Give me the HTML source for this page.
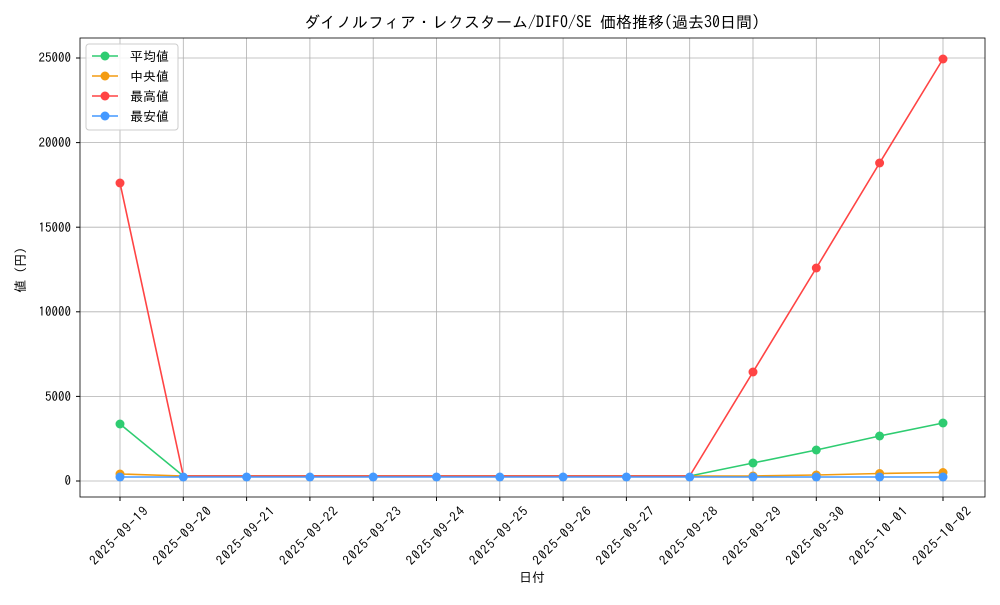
<!DOCTYPE html>
<html><head><meta charset="utf-8"><style>
body{margin:0;background:#fff;}
svg text{font-family:"IPAGothic","Noto Sans CJK JP",monospace;fill:#000;}
</style></head><body>
<svg width="1000" height="600" viewBox="0 0 1000 600" xmlns="http://www.w3.org/2000/svg">
<rect width="1000" height="600" fill="#fff"/>
<text x="532" y="28" font-size="16" text-anchor="middle">ダイノルフィア・レクスターム/DIFO/SE 価格推移(過去30日間)</text>
<g stroke="#b0b0b0" stroke-width="0.8">
<line x1="120" y1="38" x2="120" y2="497"/><line x1="183.3" y1="38" x2="183.3" y2="497"/><line x1="246.6" y1="38" x2="246.6" y2="497"/><line x1="309.9" y1="38" x2="309.9" y2="497"/><line x1="373.2" y1="38" x2="373.2" y2="497"/><line x1="436.5" y1="38" x2="436.5" y2="497"/><line x1="499.8" y1="38" x2="499.8" y2="497"/><line x1="563.1" y1="38" x2="563.1" y2="497"/><line x1="626.4" y1="38" x2="626.4" y2="497"/><line x1="689.7" y1="38" x2="689.7" y2="497"/><line x1="753" y1="38" x2="753" y2="497"/><line x1="816.3" y1="38" x2="816.3" y2="497"/><line x1="879.6" y1="38" x2="879.6" y2="497"/><line x1="943" y1="38" x2="943" y2="497"/>
<line x1="80" y1="481" x2="985" y2="481"/><line x1="80" y1="396.4" x2="985" y2="396.4"/><line x1="80" y1="311.8" x2="985" y2="311.8"/><line x1="80" y1="227.2" x2="985" y2="227.2"/><line x1="80" y1="142.6" x2="985" y2="142.6"/><line x1="80" y1="58" x2="985" y2="58"/>
</g>
<rect x="80" y="38" width="905" height="459" fill="none" stroke="#000" stroke-width="0.8"/>
<g font-size="13" text-anchor="end">
<text x="71" y="485">0</text><text x="71" y="401">5000</text><text x="71" y="316">10000</text><text x="71" y="232">15000</text><text x="71" y="147">20000</text><text x="71" y="62">25000</text>
</g>
<g stroke="#000"><line x1="76" y1="481" x2="80" y2="481"/><line x1="76" y1="396.4" x2="80" y2="396.4"/><line x1="76" y1="311.8" x2="80" y2="311.8"/><line x1="76" y1="227.2" x2="80" y2="227.2"/><line x1="76" y1="142.6" x2="80" y2="142.6"/><line x1="76" y1="58" x2="80" y2="58"/>
<line x1="120" y1="497" x2="120" y2="501"/><line x1="183.3" y1="497" x2="183.3" y2="501"/><line x1="246.6" y1="497" x2="246.6" y2="501"/><line x1="309.9" y1="497" x2="309.9" y2="501"/><line x1="373.2" y1="497" x2="373.2" y2="501"/><line x1="436.5" y1="497" x2="436.5" y2="501"/><line x1="499.8" y1="497" x2="499.8" y2="501"/><line x1="563.1" y1="497" x2="563.1" y2="501"/><line x1="626.4" y1="497" x2="626.4" y2="501"/><line x1="689.7" y1="497" x2="689.7" y2="501"/><line x1="753" y1="497" x2="753" y2="501"/><line x1="816.3" y1="497" x2="816.3" y2="501"/><line x1="879.6" y1="497" x2="879.6" y2="501"/><line x1="943" y1="497" x2="943" y2="501"/></g>
<g font-size="13" text-anchor="middle">
<text transform="translate(122,539) rotate(-45)" textLength="76">2025-09-19</text><text transform="translate(185.3,539) rotate(-45)" textLength="76">2025-09-20</text><text transform="translate(248.6,539) rotate(-45)" textLength="76">2025-09-21</text><text transform="translate(311.9,539) rotate(-45)" textLength="76">2025-09-22</text><text transform="translate(375.2,539) rotate(-45)" textLength="76">2025-09-23</text><text transform="translate(438.5,539) rotate(-45)" textLength="76">2025-09-24</text><text transform="translate(501.8,539) rotate(-45)" textLength="76">2025-09-25</text><text transform="translate(565.1,539) rotate(-45)" textLength="76">2025-09-26</text><text transform="translate(628.4,539) rotate(-45)" textLength="76">2025-09-27</text><text transform="translate(691.7,539) rotate(-45)" textLength="76">2025-09-28</text><text transform="translate(755,539) rotate(-45)" textLength="76">2025-09-29</text><text transform="translate(818.3,539) rotate(-45)" textLength="76">2025-09-30</text><text transform="translate(881.6,539) rotate(-45)" textLength="76">2025-10-01</text><text transform="translate(945,539) rotate(-45)" textLength="76">2025-10-02</text>
</g>
<text x="532" y="582" font-size="13" text-anchor="middle">日付</text>
<text transform="translate(25,270) rotate(-90)" font-size="13" text-anchor="middle">値 (円)</text>
<g fill="none" stroke-width="1.6">
<polyline stroke="#2ecc71" points="120,424 183.3,476 246.6,476 309.9,476 373.2,476 436.5,476 499.8,476 563.1,476 626.4,476 689.7,476 753,463 816.3,450 879.6,436 943,423"/>
<polyline stroke="#f39c12" points="120,474 183.3,476 246.6,476 309.9,476 373.2,476 436.5,476 499.8,476 563.1,476 626.4,476 689.7,476 753,476 816.3,475 879.6,473.5 943,472.5"/>
<polyline stroke="#ff4444" points="120,183 183.3,476 246.6,476 309.9,476 373.2,476 436.5,476 499.8,476 563.1,476 626.4,476 689.7,476 753,372 816.3,268 879.6,163 943,59"/>
<polyline stroke="#4499ff" points="120,477 183.3,477 246.6,477 309.9,477 373.2,477 436.5,477 499.8,477 563.1,477 626.4,477 689.7,477 753,477 816.3,477 879.6,477 943,477"/>
</g>
<g fill="#2ecc71"><circle cx="120" cy="424" r="4.5"/><circle cx="753" cy="463" r="4.5"/><circle cx="816.3" cy="450" r="4.5"/><circle cx="879.6" cy="436" r="4.5"/><circle cx="943" cy="423" r="4.5"/></g>
<g fill="#f39c12"><circle cx="120" cy="474" r="4.5"/><circle cx="753" cy="476" r="4.5"/><circle cx="816.3" cy="475" r="4.5"/><circle cx="879.6" cy="473.5" r="4.5"/><circle cx="943" cy="472.5" r="4.5"/></g>
<g fill="#ff4444"><circle cx="120" cy="183" r="4.5"/><circle cx="753" cy="372" r="4.5"/><circle cx="816.3" cy="268" r="4.5"/><circle cx="879.6" cy="163" r="4.5"/><circle cx="943" cy="59" r="4.5"/></g>
<g fill="#4499ff"><circle cx="120" cy="477" r="4.5"/><circle cx="183.3" cy="477" r="4.5"/><circle cx="246.6" cy="477" r="4.5"/><circle cx="309.9" cy="477" r="4.5"/><circle cx="373.2" cy="477" r="4.5"/><circle cx="436.5" cy="477" r="4.5"/><circle cx="499.8" cy="477" r="4.5"/><circle cx="563.1" cy="477" r="4.5"/><circle cx="626.4" cy="477" r="4.5"/><circle cx="689.7" cy="477" r="4.5"/><circle cx="753" cy="477" r="4.5"/><circle cx="816.3" cy="477" r="4.5"/><circle cx="879.6" cy="477" r="4.5"/><circle cx="943" cy="477" r="4.5"/></g>
<rect x="86" y="44" width="92" height="86" rx="3" fill="#fff" fill-opacity="0.85" stroke="#ccc"/>
<g stroke-width="1.6">
<line x1="92" y1="56" x2="118" y2="56" stroke="#2ecc71"/><circle cx="105" cy="56" r="4.5" fill="#2ecc71"/>
<line x1="92" y1="76" x2="118" y2="76" stroke="#f39c12"/><circle cx="105" cy="76" r="4.5" fill="#f39c12"/>
<line x1="92" y1="96" x2="118" y2="96" stroke="#ff4444"/><circle cx="105" cy="96" r="4.5" fill="#ff4444"/>
<line x1="92" y1="116" x2="118" y2="116" stroke="#4499ff"/><circle cx="105" cy="116" r="4.5" fill="#4499ff"/>
</g>
<g font-size="13"><text x="130" y="61">平均値</text><text x="130" y="81">中央値</text><text x="130" y="101">最高値</text><text x="130" y="121">最安値</text></g>
</svg>
</body></html>
